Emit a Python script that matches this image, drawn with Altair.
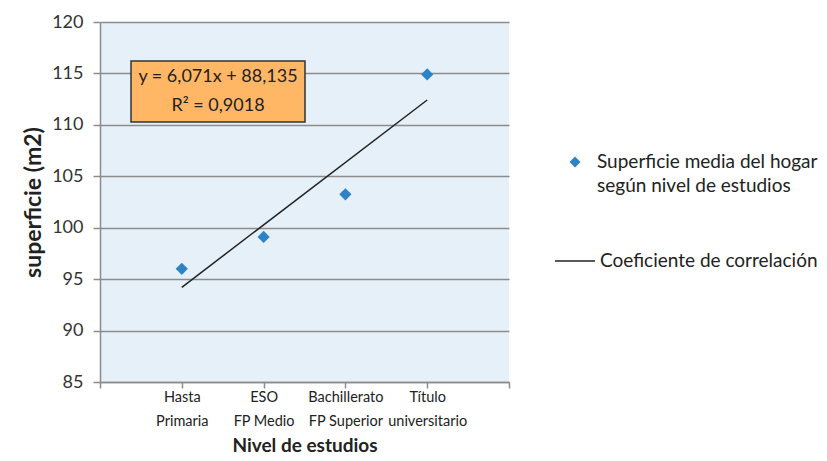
import altair as alt
import pandas as pd

categories = [["Hasta", "Primaria"], ["ESO", "FP Medio"], ["Bachillerato", "FP Superior"], ["Título", "universitario"]]
positions = [1, 2, 3, 4]
superficie = [96.0, 99.1, 103.25, 114.9]
slope = 6.071
intercept = 88.135
eq_lines = ["y = 6,071x + 88,135", "R² = 0,9018"]
legend_labels = [["Superficie media del hogar", "según nivel de estudios"], "Coeficiente de correlación"]

FONT = "Lato"

df = pd.DataFrame({"x": positions, "y": superficie})
trend = pd.DataFrame({"x": [positions[0], positions[-1]],
                      "y": [slope * positions[0] + intercept, slope * positions[-1] + intercept]})

label_expr = " : ".join(
    [f"datum.value == {p} ? {c!r}" for p, c in zip(positions, categories)]
) + " : ''"

xscale = alt.Scale(domain=[0, 5], nice=False, zero=False)
yscale = alt.Scale(domain=[85, 120], nice=False, zero=False)

xaxis = alt.Axis(values=[0, 1, 2, 3, 4, 5], labelExpr=label_expr, grid=False,
                 labelOverlap=False, labelBound=False, labelFlush=False,
                 domainColor="#8c8c8c", domainWidth=1.5, tickColor="#8c8c8c", tickWidth=1.5,
                 tickSize=6, labelFont=FONT, labelFontSize=14.5, labelColor="#222",
                 labelLineHeight=24, labelPadding=2, labelBaseline="top",
                 title="Nivel de estudios", titleFont=FONT, titleFontSize=19, titleFontWeight="bold",
                 titleColor="#222", titlePadding=9)
yaxis = alt.Axis(values=[85, 90, 95, 100, 105, 110, 115, 120], grid=True, gridColor="#8c8c8c",
                 gridWidth=1.5, domainColor="#8c8c8c", domainWidth=1.5, tickColor="#8c8c8c",
                 tickWidth=1.5, tickSize=7, labelFont=FONT, labelFontSize=18, labelColor="#333",
                 labelPadding=10, labelFlush=False, title="superficie (m2)", titleFont=FONT, titleFontSize=23,
                 titleFontWeight="bold", titleColor="#222", titlePadding=6)

points = alt.Chart(df).mark_point(shape="diamond", filled=True, size=150, color="#2E83C6", opacity=1).encode(
    x=alt.X("x:Q", scale=xscale, axis=xaxis),
    y=alt.Y("y:Q", scale=yscale, axis=yaxis),
)

line = alt.Chart(trend).mark_line(color="#222", strokeWidth=1.5).encode(
    x=alt.X("x:Q", scale=xscale), y=alt.Y("y:Q", scale=yscale)
)

box_df = pd.DataFrame({"a": [0]})
box = alt.Chart(box_df).mark_rect(fill="#FFB766", stroke="#333", strokeWidth=1.5).encode(
    x=alt.value(31), x2=alt.value(205), y=alt.value(39), y2=alt.value(100)
)
eq_df = pd.DataFrame({"t": eq_lines, "py": [55, 84]})
eq_text = alt.Chart(eq_df).mark_text(font=FONT, fontSize=18, color="#222", align="center", baseline="middle").encode(
    x=alt.value(118), y=alt.Y("py:Q", scale=None), text="t:N"
)

leg_pt = alt.Chart(box_df).mark_point(shape="diamond", filled=True, size=120, color="#2E83C6", opacity=1).encode(
    x=alt.value(475), y=alt.value(140)
)
leg_t1 = alt.Chart(pd.DataFrame({"t": [legend_labels[0]]})).mark_text(
    font=FONT, fontSize=19, color="#222", align="left", baseline="middle", lineHeight=24
).encode(x=alt.value(497), y=alt.value(140), text="t:N")
leg_line = alt.Chart(box_df).mark_rule(color="#222", strokeWidth=1.5).encode(
    x=alt.value(455), x2=alt.value(495), y=alt.value(239)
)
leg_t2 = alt.Chart(pd.DataFrame({"t": [legend_labels[1]]})).mark_text(
    font=FONT, fontSize=19, color="#222", align="left", baseline="middle"
).encode(x=alt.value(500), y=alt.value(239), text="t:N")

chart = alt.layer(points, line, box, eq_text, leg_pt, leg_t1, leg_line, leg_t2).properties(
    width=409, height=360,
    background="white",
    autosize=alt.AutoSizeParams(type="none"),
    padding={"left": 92, "top": 14, "right": 309, "bottom": 75},
).configure_view(fill="#E6F0F8", strokeWidth=0)

chart.save("out.html", embed_options={"renderer": "svg", "actions": False})
